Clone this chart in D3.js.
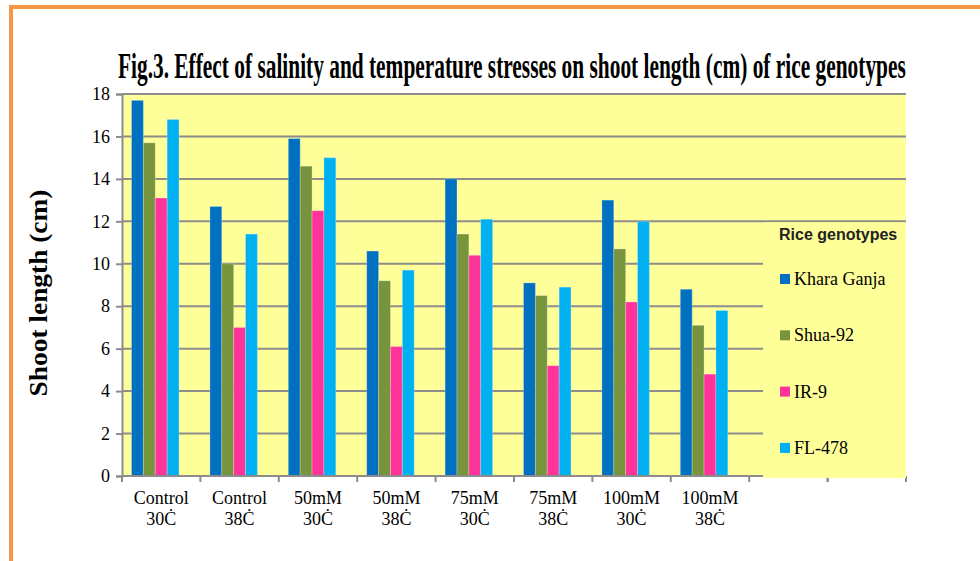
<!DOCTYPE html>
<html><head><meta charset="utf-8">
<script src="https://cdn.jsdelivr.net/npm/d3@7"></script>
<style>body{margin:0;background:#fff;overflow:hidden} svg{display:block}
.serif{font-family:"Liberation Serif","Times New Roman",serif}
.sans{font-family:"Liberation Sans",Arial,sans-serif}</style>
</head><body><svg id="c" width="980" height="561"></svg>
<script>
// ---- data ----
const catLine1 = ["Control","Control","50mM","50mM","75mM","75mM","100mM","100mM"];
const catLine2 = ["30Ċ","38Ċ","30Ċ","38Ċ","30Ċ","38Ċ","30Ċ","38Ċ"];
const seriesNames = ["Khara Ganja","Shua-92","IR-9","FL-478"];
const kharaGanja = [17.7,12.7,15.9,10.6,14.0,9.1,13.0,8.8];
const shua92     = [15.7,10.0,14.6,9.2,11.4,8.5,10.7,7.1];
const ir9        = [13.1,7.0,12.5,6.1,10.4,5.2,8.2,4.8];
const fl478      = [16.8,11.4,15.0,9.7,12.1,8.9,12.0,7.8];
const yTicks = [0,2,4,6,8,10,12,14,16,18];
const titleText = "Fig.3. Effect of salinity and temperature stresses on shoot length (cm) of rice genotypes";
const yTitle = "Shoot length (cm)";
const legendTitle = "Rice genotypes";
const colors = ["#0070C0","#77933C","#FF3399","#00B0F0"];

const seriesValues = [kharaGanja, shua92, ir9, fl478];
const catKeys = catLine1.map((d,i)=>d+" "+catLine2[i]);

const svg = d3.select("#c");
const L = 122, R = 906, T = 94, B = 476;

// orange frame
svg.append("rect").attr("x",11).attr("y",7).attr("width",1200).attr("height",800)
  .attr("fill","none").attr("stroke","#F79646").attr("stroke-width",4);

const x0 = d3.scaleBand().domain([...catKeys, "_e1", "_e2"]).range([L, R]).padding(0);
const x1 = d3.scaleBand().domain([...seriesNames, "_gap"]).range([0, x0.bandwidth()])
  .paddingInner(0).paddingOuter(0.8);
const y = d3.scaleLinear().domain([0,18]).range([B, T]);

// plot area
svg.append("rect").attr("x",L).attr("y",T).attr("width",R-L).attr("height",B-T).attr("fill","#FFFF99");

// gridlines
svg.append("g").selectAll("line").data(yTicks.filter(d=>d>0)).join("line")
  .attr("x1",L).attr("x2",R).attr("y1",d=>y(d)).attr("y2",d=>y(d))
  .attr("stroke","#8C8C8C").attr("stroke-width",2);

// bars
const g = svg.append("g");
catKeys.forEach((k,ci)=>{
  seriesNames.forEach((s,si)=>{
    const v = seriesValues[si][ci];
    g.append("rect")
      .attr("x", x0(k)+x1(s)).attr("width", x1.bandwidth())
      .attr("y", y(v)).attr("height", y(0)-y(v))
      .attr("fill", colors[si])
      .attr("stroke","rgba(255,255,255,0.25)").attr("stroke-width",1);
  });
});

// y axis
const yAxis = d3.axisLeft(y).tickValues(yTicks).tickSize(6).tickPadding(6).tickFormat(d3.format("d"));
const ya = svg.append("g").attr("transform",`translate(${L},0)`).call(yAxis)
  .attr("font-family",null).attr("font-size",null).attr("class","serif");
ya.select(".domain").attr("stroke","#8C8C8C").attr("stroke-width",2);
ya.selectAll(".tick line").attr("stroke","#8C8C8C").attr("stroke-width",2);
ya.selectAll("text").attr("class","serif").style("font-size","18px").attr("fill","#000");

// x axis line
svg.append("line").attr("x1",L).attr("x2",R).attr("y1",B).attr("y2",B)
  .attr("stroke","#8C8C8C").attr("stroke-width",2);
// x ticks at band edges
const edges = x0.domain().map(d=>x0(d)).concat([R]);
svg.append("g").selectAll("line").data(edges).join("line")
  .attr("x1",d=>d).attr("x2",d=>d).attr("y1",B).attr("y2",B+6)
  .attr("stroke","#8C8C8C").attr("stroke-width",2);

// x labels
const xl = svg.append("g").attr("class","serif").style("font-size","18px").attr("text-anchor","middle");
catKeys.forEach((k,i)=>{
  const cx = x0(k)+x0.bandwidth()/2;
  xl.append("text").attr("x",cx).attr("y",504).text(catLine1[i]);
  xl.append("text").attr("x",cx).attr("y",525).text(catLine2[i]);
});

// legend box
svg.append("rect").attr("x",763).attr("y",222.5).attr("width",R-763).attr("height",255.5).attr("fill","#FFFF99");
// ticks visible below legend
svg.append("g").selectAll("line").data(edges.filter(d=>d>763)).join("line")
  .attr("x1",d=>d).attr("x2",d=>d).attr("y1",478).attr("y2",B+6)
  .attr("stroke","#8C8C8C").attr("stroke-width",2);

svg.append("text").attr("x",779).attr("y",240).attr("class","sans")
  .style("font-weight","bold").style("font-size","16px").attr("fill","#222")
  .text(legendTitle);
const lg = svg.append("g");
seriesNames.forEach((s,i)=>{
  const cy = 279 + i*56.3;
  lg.append("rect").attr("x",780).attr("y",cy-5).attr("width",10).attr("height",10).attr("fill",colors[i]);
  lg.append("text").attr("x",794).attr("y",cy+6).attr("class","serif").style("font-size","18px").text(s);
});

// title: compressed horizontally to fit the reference width
const tt = svg.append("text").attr("class","serif")
  .style("font-size","36px").style("font-weight","bold")
  .text(titleText);
const natural = tt.node().getComputedTextLength();
tt.attr("transform",`translate(118,78) scale(${788 / natural},1)`);

// y title, stretched to the reference length
const yt = svg.append("text").attr("text-anchor","middle").attr("class","serif")
  .style("font-size","26px").style("font-weight","bold")
  .text(yTitle);
const yl = yt.node().getComputedTextLength();
yt.attr("transform",`translate(47,293) rotate(-90) scale(${207 / yl},1)`);
</script>
</body></html>
